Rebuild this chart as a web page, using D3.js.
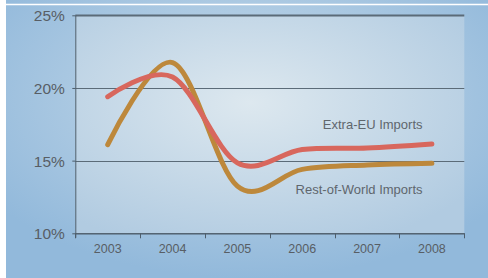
<!DOCTYPE html>
<html><head><meta charset="utf-8">
<script src="https://cdn.jsdelivr.net/npm/d3@7"></script>
<style>body{margin:0;background:#fff}svg{display:block}</style>
</head><body>
<script>
const years = ["2003","2004","2005","2006","2007","2008"];
const extraEU = [19.4, 20.75, 14.85, 15.76, 15.87, 16.15];
const restWorld = [16.1, 21.75, 13.25, 14.4, 14.7, 14.82];
const yTicks = [10, 15, 20, 25];
const seriesNames = ["Extra-EU Imports", "Rest-of-World Imports"];
const labelAt = [17.18, 12.7];

const W = 488, H = 278;
const svg = d3.select("body").append("svg").attr("width", W).attr("height", H);
const defs = svg.append("defs");
const g1 = defs.append("radialGradient").attr("id","outer").attr("cx","50%").attr("cy","35%").attr("r","65%");
g1.append("stop").attr("offset","0%").attr("stop-color","#c8dbea");
g1.append("stop").attr("offset","100%").attr("stop-color","#92b9db");
const g2 = defs.append("radialGradient").attr("id","inner").attr("cx","45%").attr("cy","40%").attr("r","70%");
g2.append("stop").attr("offset","0%").attr("stop-color","#dde8ef");
g2.append("stop").attr("offset","100%").attr("stop-color","#b1cbe1");

svg.append("rect").attr("width",W).attr("height",H).attr("fill","#fff");
svg.append("rect").attr("x",6).attr("y",0).attr("width",W-6).attr("height",H).attr("fill","url(#outer)");
svg.append("line").attr("x1",6).attr("x2",W).attr("y1",4.5).attr("y2",4.5).attr("stroke","#fff").attr("stroke-width",1.5);

const L = 75.3, R = 464.3, T = 15.3, B = 233.3;
const x = d3.scaleBand().domain(years).range([L, R]);
const y = d3.scaleLinear().domain([10, 25]).range([B, T]);

svg.append("rect").attr("x",L).attr("y",T).attr("width",R-L).attr("height",B-T).attr("fill","url(#inner)");

// gridlines
svg.append("g").selectAll("line").data(yTicks).join("line")
  .attr("x1", L).attr("x2", R)
  .attr("y1", d => Math.round(y(d)) + 0.5).attr("y2", d => Math.round(y(d)) + 0.5)
  .attr("stroke", "#5b6b78").attr("stroke-width", d => d === 25 ? 1.8 : 1);

// y axis
const ya = svg.append("g").attr("transform", `translate(${L},0)`)
  .call(d3.axisLeft(y).tickValues(yTicks).tickSize(3).tickPadding(7.5).tickFormat(d => d + "%"));
ya.select(".domain").attr("stroke","#4e5e6c").attr("d", `M0.5,${T}V${B+4.5}`);
ya.selectAll(".tick line").attr("stroke","#4e5e6c");
ya.selectAll("text").attr("fill","#585e65").style("font-family","'Liberation Sans', Arial, sans-serif").style("font-size","15.5px").attr("dy","0.36em");

// x axis
const xa = svg.append("g").attr("transform", `translate(0,${Math.round(B)+0.5})`)
  .call(d3.axisBottom(x).tickSize(0).tickPadding(11));
xa.select(".domain").attr("stroke","#4e5e6c");
xa.selectAll("text").attr("fill","#585e65").style("font-family","'Liberation Sans', Arial, sans-serif").style("font-size","12.5px");
const bounds = years.map(d => x(d)).concat([R]);
svg.append("g").selectAll("line").data(bounds).join("line")
  .attr("x1", d => Math.round(d)+0.5).attr("x2", d => Math.round(d)+0.5)
  .attr("y1", B).attr("y2", B + 5).attr("stroke","#4e5e6c");

const line = d3.line().x((d,i) => x(years[i]) + x.bandwidth()/2).y(d => y(d)).curve(d3.curveCardinal.tension(0));
svg.append("path").datum(restWorld).attr("d", line).attr("fill","none").attr("stroke","#bd883b").attr("stroke-width",5).attr("stroke-linecap","round");
svg.append("path").datum(extraEU).attr("d", line).attr("fill","none").attr("stroke","#d8675d").attr("stroke-width",5).attr("stroke-linecap","round");

const lab = svg.append("g").style("font-family","'Liberation Sans', Arial, sans-serif").style("font-size","13px").attr("fill","#5f666d").attr("text-anchor","end");
lab.selectAll("text").data(seriesNames).join("text")
  .attr("x", 422.5).attr("y", (d,i) => y(labelAt[i])).text(d => d);
</script>
</body></html>
